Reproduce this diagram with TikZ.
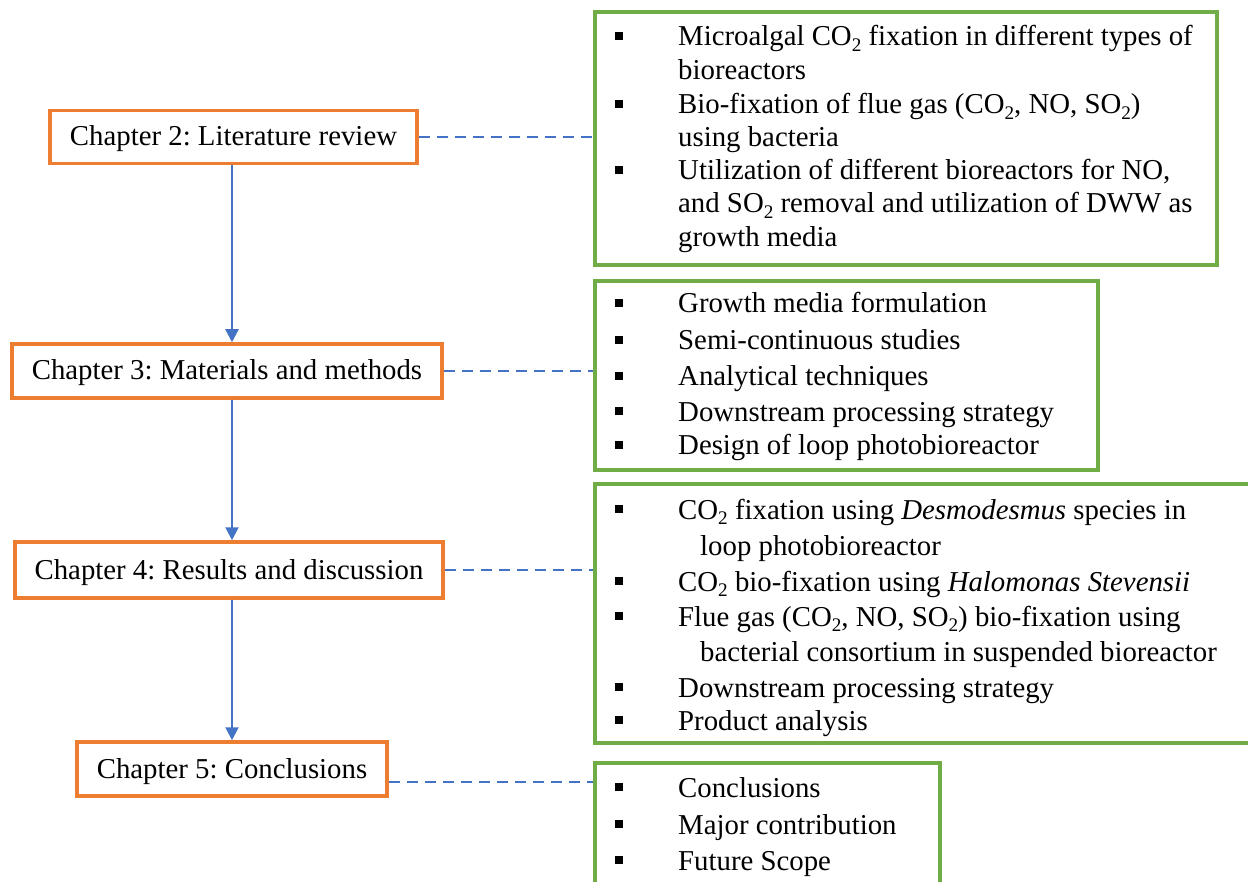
\documentclass[tikz,border=0pt]{standalone}
\usepackage{fontspec}
\setmainfont{Liberation Serif}
\usetikzlibrary{arrows.meta}
\definecolor{orng}{HTML}{ED7D31}
\definecolor{grn}{HTML}{70AD47}
\definecolor{blu}{HTML}{4472C4}
\newcommand\chemsub[1]{\raisebox{-0.2em}{\fontsize{19.2pt}{19.2pt}\selectfont #1}}
\newcommand\tline[4]{\node[txt] (#1) at (#2,#3) {#4};}
\newcommand\bulsq[2]{\node[bul] (#1) at (619,#2) {};}
\frenchspacing
\begin{document}
\frenchspacing
\begin{tikzpicture}[x=1pt,y=-1pt,
  txt/.style={anchor=base west, inner sep=0pt, font=\fontsize{28.8pt}{34pt}\selectfont},
  bul/.style={fill=black, minimum size=8pt, inner sep=0pt},
  chap/.style={draw=orng, line width=3.5pt, fill=white, inner sep=0pt, text height=22pt, text depth=4pt, font=\fontsize{28.8pt}{34pt}\selectfont},
  gbox/.style={draw=grn, line width=3.5pt, inner sep=0pt},
  arr/.style={draw=blu, line width=2.2pt, -{Triangle[width=13pt,length=13pt]}},
  dline/.style={draw=blu, line width=2.2pt, dash pattern=on 11pt off 7pt}]
\clip (0,0) rectangle (1248,882);
\fill[white] (0,0) rectangle (1248,882);

% chapter boxes
\node[chap, minimum width=367pt, minimum height=53pt] (ch2) at (233.5,137) {Chapter 2: Literature review};
\node[chap, minimum width=430pt, minimum height=54pt] (ch3) at (227,371) {Chapter 3: Materials and methods};
\node[chap, minimum width=428pt, minimum height=56pt] (ch4) at (229,570) {Chapter 4: Results and discussion};
\node[chap, minimum width=310pt, minimum height=54pt] (ch5) at (232,769) {Chapter 5: Conclusions};

% green boxes
\node[gbox, minimum width=622pt, minimum height=253pt] (g1) at (906,138.5) {};
\node[gbox, minimum width=503pt, minimum height=189pt] (g2) at (846.5,375.5) {};
\node[gbox, minimum width=675pt, minimum height=259pt] (g3) at (932.5,613.5) {};
\node[gbox, minimum width=345pt, minimum height=137pt] (g4) at (767.5,831.5) {};

% arrows
\coordinate (ax) at (232,0);
\draw[arr] (ax |- ch2.south) -- (ax |- ch3.north);
\draw[arr] (ax |- ch3.south) -- (ax |- ch4.north);
\draw[arr] (ax |- ch4.south) -- (ax |- ch5.north);

% dashed links
\draw[dline] (ch2.east) -- (ch2.east -| g1.west);
\draw[dline] (ch3.east) -- (ch3.east -| g2.west);
\draw[dline] (ch4.east) -- (ch4.east -| g3.west);
\coordinate (c5) at ([yshift=-13pt]ch5.east);
\draw[dline] (c5) -- (c5 -| g4.west);

% box 1
\bulsq{b11}{36}
\tline{t11}{678}{46}{Microalgal CO\chemsub{2} fixation in different types of}
\tline{t12}{678}{80}{bioreactors}
\bulsq{b12}{104}
\tline{t13}{678}{114}{Bio-fixation of flue gas (CO\chemsub{2}, NO, SO\chemsub{2})}
\tline{t14}{678}{147}{using bacteria}
\bulsq{b13}{170}
\tline{t15}{678}{180}{Utilization of different bioreactors for NO,}
\tline{t16}{678}{213}{and SO\chemsub{2} removal and utilization of DWW as}
\tline{t17}{678}{247}{growth media}

% box 2
\bulsq{b21}{303}
\tline{t21}{678}{313}{Growth media formulation}
\bulsq{b22}{340}
\tline{t22}{678}{350}{Semi-continuous studies}
\bulsq{b23}{376}
\tline{t23}{678}{386}{Analytical techniques}
\bulsq{b24}{411}
\tline{t24}{678}{421}{Downstream processing strategy}
\bulsq{b25}{445}
\tline{t25}{678}{455}{Design of loop photobioreactor}

% box 3
\bulsq{b31}{509}
\tline{t31}{678}{519}{CO\chemsub{2} fixation using \textit{Desmodesmus} species in}
\tline{t32}{700}{555}{loop photobioreactor}
\bulsq{b32}{581}
\tline{t33}{678}{591}{CO\chemsub{2} bio-fixation using \textit{Halomonas Stevensii}}
\bulsq{b33}{616}
\tline{t34}{678}{626}{Flue gas (CO\chemsub{2}, NO, SO\chemsub{2}) bio-fixation using}
\tline{t35}{700}{661}{bacterial consortium in suspended bioreactor}
\bulsq{b34}{687}
\tline{t36}{678}{697}{Downstream processing strategy}
\bulsq{b35}{720}
\tline{t37}{678}{730}{Product analysis}

% box 4
\bulsq{b41}{787}
\tline{t41}{678}{797}{Conclusions}
\bulsq{b42}{824}
\tline{t42}{678}{834}{Major contribution}
\bulsq{b43}{860}
\tline{t43}{678}{870}{Future Scope}
\end{tikzpicture}
\end{document}
